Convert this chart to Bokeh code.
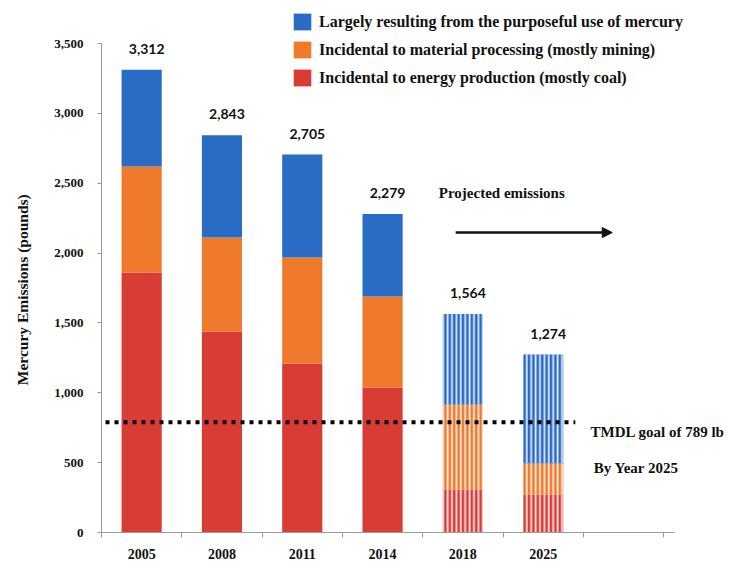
import numpy as np
from bokeh.plotting import figure
from bokeh.models import (Range1d, FixedTicker, NumeralTickFormatter, Legend, LegendItem,
                          ColumnDataSource, Label, Arrow, NormalHead)
from bokeh.core.properties import value
from bokeh.embed import file_html
from bokeh.resources import INLINE

# ---- data ----
years = ["2005", "2008", "2011", "2014", "2018", "2025"]
energy = [1861, 1439, 1210, 1038, 308, 272]          # incidental to energy production
processing = [759, 673, 758, 651, 608, 222]          # incidental to material processing
purposeful = [692, 731, 737, 590, 648, 780]          # purposeful use of mercury
totals = [3312, 2843, 2705, 2279, 1564, 1274]
projected = [False, False, False, False, True, True]
tmdl_goal = 789
y_ticks = [0, 500, 1000, 1500, 2000, 2500, 3000, 3500]
series_names = ["Largely resulting from the purposeful use of mercury",
                "Incidental to material processing (mostly mining)",
                "Incidental to energy production (mostly coal)"]
colors = ["#2A6BC6", "#EF7A2C", "#D93B35"]   # blue, orange, red

SERIF = "Liberation Serif"

p = figure(width=733, height=563, output_backend="svg", toolbar_location=None,
           x_range=Range1d(-0.5, 7.37), y_range=Range1d(0, 3808),
           min_border_left=101, min_border_right=0, min_border_top=0, min_border_bottom=31)
p.outline_line_color = None
p.xgrid.visible = False
p.ygrid.visible = False
p.background_fill_color = "white"

idx = np.arange(len(years))
e = np.array(energy)
pr = np.array(processing)
pu = np.array(purposeful)
b1 = e
b2 = e + pr
b3 = e + pr + pu

layers = [(np.zeros(len(years)), b1, colors[2]),
          (b1, b2, colors[1]),
          (b2, b3, colors[0])]
solid_renderers = []
mask_solid = ~np.array(projected)
mask_proj = np.array(projected)
for bottom, top, col in layers:
    src = ColumnDataSource(dict(x=idx[mask_solid], bottom=bottom[mask_solid], top=top[mask_solid]))
    r = p.vbar(x="x", bottom="bottom", top="top", width=0.5, source=src,
               fill_color=col, line_color=None)
    solid_renderers.append(r)
    srcp = ColumnDataSource(dict(x=idx[mask_proj], bottom=bottom[mask_proj], top=top[mask_proj]))
    p.vbar(x="x", bottom="bottom", top="top", width=0.5, source=srcp,
           fill_color=col, line_color=None,
           hatch_pattern="vertical_line", hatch_color="white", hatch_alpha=0.85,
           hatch_scale=4.4, hatch_weight=1.8)

# total labels
p.text(x=idx, y=totals, text=[f"{t:,}" for t in totals],
       text_font=value("Lato"), text_font_style="bold", text_font_size="14px",
       text_color="#111111", text_align="center", text_baseline="middle",
       x_offset=5, y_offset=-21)

# TMDL dotted goal line
p.line(x=[idx[0] - 0.45, idx[-1] + 0.4], y=[tmdl_goal, tmdl_goal],
       line_color="black", line_width=4, line_dash="4 5")

# annotations
p.add_layout(Label(x=3.7, y=2430, text="Projected emissions", text_font=SERIF,
                   text_font_style="bold", text_font_size="15px", text_baseline="middle",
                   text_color="#111111"))
p.add_layout(Arrow(x_start=3.91, y_start=2147, x_end=5.86, y_end=2147,
                   line_width=2.5, line_color="#111111",
                   end=NormalHead(size=10, fill_color="#111111", line_color="#111111")))
p.add_layout(Label(x=5.59, y=716, text=f"TMDL goal of {tmdl_goal} lb", text_font=SERIF,
                   text_font_style="bold", text_font_size="15px", text_baseline="middle",
                   text_color="#111111"))
p.add_layout(Label(x=5.63, y=465, text="By Year 2025", text_font=SERIF,
                   text_font_style="bold", text_font_size="15px", text_baseline="middle",
                   text_color="#111111"))

# axes
xa = p.xaxis[0]
xa.bounds = (-0.5, 6.64)
xa.ticker = FixedTicker(ticks=list(range(7)), minor_ticks=[i - 0.5 for i in range(8)])
xa.major_label_overrides = {i: (years[i] if i < len(years) else "") for i in range(7)}
xa.major_tick_line_color = None
xa.major_tick_out = 0
xa.minor_tick_out = 5
xa.minor_tick_in = 0
xa.minor_tick_line_color = "#9a9a9a"
xa.axis_line_color = "#9a9a9a"
xa.major_label_standoff = 11
xa.major_label_text_font = SERIF
xa.major_label_text_font_style = "bold"
xa.major_label_text_font_size = "14px"
xa.major_label_text_color = "#111111"

ya = p.yaxis[0]
ya.bounds = (0, 3500)
ya.ticker = FixedTicker(ticks=y_ticks, minor_ticks=[])
ya.formatter = NumeralTickFormatter(format="0,0")
# em-spaces keep the (frame-centred) label centred on the 0-3,500 axis span
ya.axis_label = "Mercury Emissions (pounds)" + "\u2003\u2003\u2003"
ya.axis_label_text_font = SERIF
ya.axis_label_text_font_style = "bold"
ya.axis_label_text_font_size = "15.5px"
ya.axis_label_text_color = "#111111"
ya.axis_label_standoff = 20
ya.major_label_text_font = SERIF
ya.major_label_text_font_style = "bold"
ya.major_label_text_font_size = "13px"
ya.major_label_text_color = "#111111"
ya.major_tick_out = 4
ya.major_tick_in = 0
ya.major_tick_line_color = "#9a9a9a"
ya.axis_line_color = "#9a9a9a"
ya.major_label_standoff = 14

# legend
items = [LegendItem(label=series_names[0], renderers=[solid_renderers[2]]),
         LegendItem(label=series_names[1], renderers=[solid_renderers[1]]),
         LegendItem(label=series_names[2], renderers=[solid_renderers[0]])]
legend = Legend(items=items, location=(190, 444), padding=0, margin=0,
                border_line_color=None, background_fill_alpha=0,
                glyph_width=22, glyph_height=21, label_height=21, spacing=7,
                label_standoff=6, label_text_font=SERIF, label_text_font_style="bold",
                label_text_font_size="16px", label_text_color="#111111",
                label_text_baseline="middle")
p.add_layout(legend)

open("out.html", "w").write(file_html(p, INLINE))
